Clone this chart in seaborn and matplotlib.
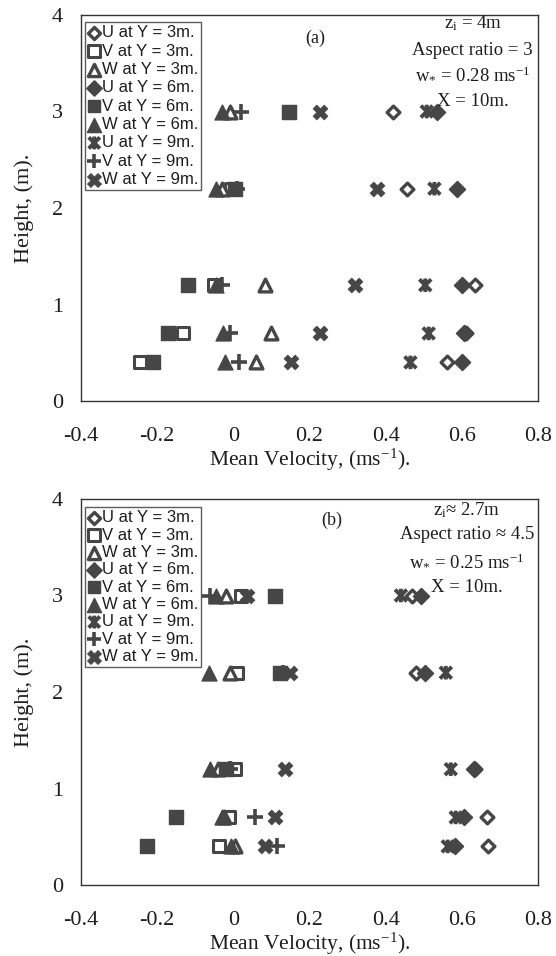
import numpy as np
import pandas as pd
import matplotlib
matplotlib.use("Agg")
import matplotlib.pyplot as plt
import matplotlib.path as mpath
import seaborn as sns

sns.set_theme(style="white")
plt.rcParams["font.family"] = ["Liberation Serif", "DejaVu Serif"]
plt.rcParams["mathtext.fontset"] = "custom"
plt.rcParams["mathtext.rm"] = "Liberation Serif"
plt.rcParams["mathtext.it"] = "Liberation Serif:italic"

# ---------------- data ----------------
heights = [3.0, 2.2, 1.2, 0.7, 0.4]
labels = ["U at Y = 3m.", "V at Y = 3m.", "W at Y = 3m.",
          "U at Y = 6m.", "V at Y = 6m.", "W at Y = 6m.",
          "U at Y = 9m.", "V at Y = 9m.", "W at Y = 9m."]

# panel (a)
a_U3 = [0.42, 0.456, 0.635, 0.61, 0.56]
a_V3 = [0.145, -0.005, -0.05, -0.133, -0.245]
a_W3 = [-0.01, -0.03, 0.082, 0.099, 0.06]
a_U6 = [0.534, 0.586, 0.60, 0.607, 0.60]
a_V6 = [0.145, 0.005, -0.12, -0.172, -0.21]
a_W6 = [-0.03, -0.045, -0.045, -0.028, -0.023]
a_U9 = [0.508, 0.528, 0.504, 0.513, 0.465]
a_V9 = [0.02, 0.01, -0.03, -0.01, 0.016]
a_W9 = [0.228, 0.377, 0.32, 0.228, 0.151]

# panel (b)
b_U3 = [0.47, 0.48, 0.635, 0.665, 0.668]
b_V3 = [0.019, 0.01, 0.005, -0.012, -0.038]
b_W3 = [-0.02, -0.01, -0.04, -0.025, 0.005]
b_U6 = [0.493, 0.502, 0.633, 0.607, 0.581]
b_V6 = [0.11, 0.123, -0.02, -0.151, -0.228]
b_W6 = [-0.045, -0.065, -0.06, -0.03, -0.005]
b_U9 = [0.44, 0.558, 0.571, 0.584, 0.563]
b_V9 = [-0.06, 0.13, -0.01, 0.058, 0.115]
b_W9 = [0.035, 0.15, 0.136, 0.11, 0.084]

xticks = [-0.4, -0.2, 0, 0.2, 0.4, 0.6, 0.8]
xticklabels = ["-0.4", "-0.2", "0", "0.2", "0.4", "0.6", "0.8"]
yticks = [0, 1, 2, 3, 4]

a_notes = ["z$_\\mathregular{i}$ = 4m", "Aspect ratio = 3",
           "w$_\\mathregular{*}$ = 0.28 ms$^\\mathregular{-1}$", "X = 10m."]
b_notes = ["z$_\\mathregular{i}$\u2248 2.7m", "Aspect ratio \u2248 4.5",
           "w$_\\mathregular{*}$ = 0.25 ms$^\\mathregular{-1}$", "X = 10m."]

# ---------------- styles ----------------
DARK = "#464646"
INK = "#1e1e1e"
zhe = mpath.Path([(-1, -1), (1, 1), (-1, 1), (1, -1), (0, -1.15), (0, 1.15)],
                 [1, 2, 1, 2, 1, 2])
styles = [
    dict(marker="D", s=42, facecolor="white", edgecolor=DARK, linewidth=2.4),
    dict(marker="s", s=70, facecolor="white", edgecolor=DARK, linewidth=2.2),
    dict(marker="^", s=85, facecolor="white", edgecolor=DARK, linewidth=2.4),
    dict(marker="D", s=65, facecolor=DARK, edgecolor=DARK, linewidth=1.2),
    dict(marker="s", s=90, facecolor=DARK, edgecolor=DARK, linewidth=1),
    dict(marker="^", s=115, facecolor=DARK, edgecolor=DARK, linewidth=1),
    dict(marker=zhe, s=95, facecolor="none", edgecolor=DARK, linewidth=2.8),
    dict(marker="+", s=120, color=DARK, linewidth=2.6),
    dict(marker="X", s=115, facecolor=DARK, edgecolor=DARK, linewidth=0.5),
]

fig = plt.figure(figsize=(5.56, 9.56), dpi=100)
W, H = 556.0, 956.0


def make_axes(left, right, top, bottom):
    return fig.add_axes([left / W, 1 - bottom / H, (right - left) / W, (bottom - top) / H])


ax_a = make_axes(81, 538, 15, 401)
ax_b = make_axes(81, 538, 499, 885)

panels = [
    (ax_a, [a_U3, a_V3, a_W3, a_U6, a_V6, a_W6, a_U9, a_V9, a_W9], "(a)", a_notes,
     (0.512, 0.94), (0.857, [0.979, 0.909, 0.845, 0.775]), (0.009, 0.982), 0.2),
    (ax_b, [b_U3, b_V3, b_W3, b_U6, b_V6, b_W6, b_U9, b_V9, b_W9], "(b)", b_notes,
     (0.549, 0.946), (0.845, [0.971, 0.907, 0.837, 0.772]), (0.009, 0.979), 0.14),
]

for ax, series, tag, notes, tagpos, notepos, legpos, lsp in panels:
    for vals, lab, st in zip(series, labels, styles):
        df = pd.DataFrame({"v": vals, "h": heights})
        sns.scatterplot(data=df, x="v", y="h", ax=ax, label=lab, zorder=3, **st)
    ax.set_xlim(-0.4, 0.8)
    ax.set_ylim(0, 4)
    ax.set_xticks(xticks)
    ax.set_xticklabels(xticklabels)
    ax.set_yticks(yticks)
    ax.tick_params(direction="in", length=5, width=0.8, labelsize=16,
                   colors=INK)
    ax.tick_params(axis="x", pad=19)
    ax.tick_params(axis="y", pad=13)
    for sp in ax.spines.values():
        sp.set_color("#333333")
        sp.set_linewidth(1.0)
    ax.set_xlabel("Mean Velocity, (ms$^\\mathregular{-1}$).", fontsize=15.5,
                  color=INK, labelpad=0)
    ax.set_ylabel("Height, (m).", fontsize=16, color=INK, labelpad=13)
    ax.text(tagpos[0], tagpos[1], tag, transform=ax.transAxes, fontsize=13,
            ha="center", va="center", color=INK)
    for txt, yy in zip(notes, notepos[1]):
        ax.text(notepos[0], yy, txt, transform=ax.transAxes, fontsize=13.5,
                ha="center", va="center", color=INK)
    leg = ax.legend(loc="upper left", bbox_to_anchor=legpos, borderaxespad=0,
                    frameon=True, fancybox=False, edgecolor="#333333",
                    handlelength=0.7, handletextpad=0.1, borderpad=0.2,
                    labelspacing=lsp, markerscale=0.95,
                    prop={"family": ["Liberation Sans", "DejaVu Sans"], "size": 12})
    leg.get_frame().set_linewidth(1.0)
    for t in leg.get_texts():
        t.set_color(INK)

fig.savefig("out.png", dpi=100)
